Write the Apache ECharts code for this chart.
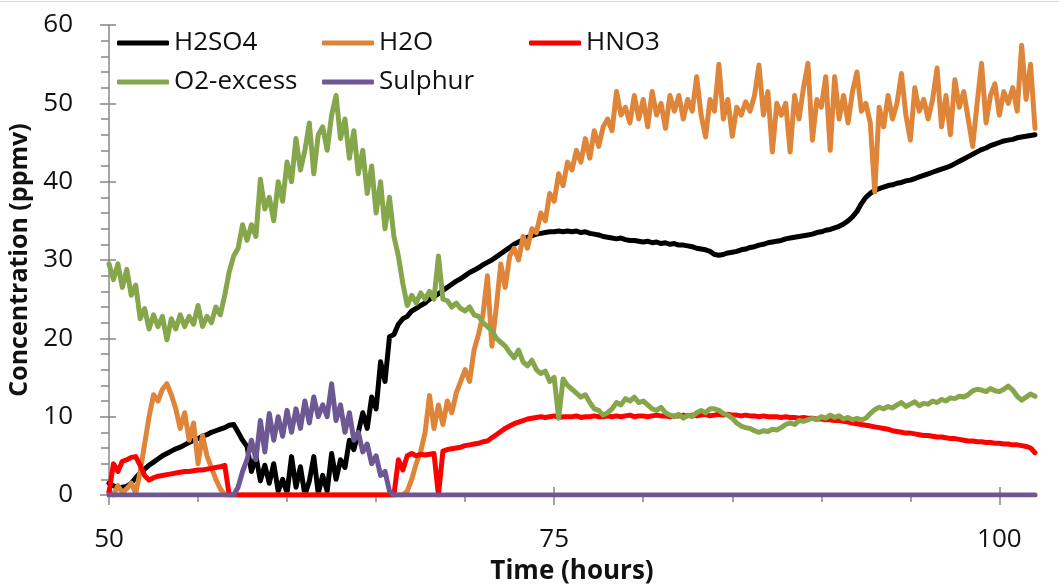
<!DOCTYPE html>
<html>
<head>
<meta charset="utf-8">
<script src="https://cdn.jsdelivr.net/npm/echarts@6/dist/echarts.min.js"></script>
<style>
  html, body { margin: 0; padding: 0; background: #ffffff; }
  #main { width: 1059px; height: 584px; }
</style>
</head>
<body>
<div id="main"></div>
<script>
// readings every 0.25 h starting at 50 h
const timeStart = 50;
const timeStep = 0.25;

const seriesNames = ['H2SO4', 'H2O', 'HNO3', 'O2-excess', 'Sulphur'];
const seriesColors = ['#000000', '#df8539', '#ff0000', '#86a64c', '#6e5894'];

const xTickValues = [50, 75, 100];
const xTickLabels = ['50', '75', '100'];

const h2so4Values = [
  1.5, 1.2, 0.9, 1.0, 1.1, 1.5, 2.2, 2.8,        // 50
  3.3, 3.8, 4.2, 4.6, 5.0, 5.3, 5.6, 5.9,        // 52
  6.1, 6.4, 6.7, 7.0, 7.2, 7.5, 7.7, 8.0,        // 54
  8.2, 8.4, 8.6, 8.9, 9.0, 8.0, 7.0, 6.2,        // 56
  3.0, 5.0, 1.8, 3.8, 1.5, 4.0, 0.5, 2.0,        // 58
  0.3, 4.9, 1.0, 3.6, 0.0, 1.8, 4.9, 0.2,        // 60
  2.5, 0.5, 5.3, 2.0, 4.5, 3.5, 7.0, 5.8,        // 62
  8.0, 10.5, 8.5, 12.5, 11.0, 17.0, 14.5, 20.2,  // 64
  20.5, 21.8, 22.5, 22.8, 23.5, 23.8, 24.2, 24.5, // 66
  25.0, 25.3, 25.7, 26.1, 26.5, 26.9, 27.3, 27.6, // 68
  28.0, 28.4, 28.7, 29.0, 29.4, 29.7, 30.0, 30.4, // 70
  30.8, 31.2, 31.6, 32.0, 32.3, 32.6, 32.9, 33.1, // 72
  33.3, 33.4, 33.5, 33.6, 33.6, 33.7, 33.6, 33.7, // 74
  33.6, 33.7, 33.5, 33.6, 33.4, 33.3, 33.2, 33.0, // 76
  32.9, 32.8, 32.7, 32.8, 32.6, 32.5, 32.5, 32.4, // 78
  32.3, 32.4, 32.2, 32.3, 32.1, 32.2, 32.0, 32.1, // 80
  31.9, 31.9, 31.8, 31.7, 31.5, 31.4, 31.3, 31.1, // 82
  30.7, 30.6, 30.7, 30.9, 31.0, 31.1, 31.3, 31.4, // 84
  31.6, 31.7, 31.9, 32.0, 32.2, 32.3, 32.4, 32.5, // 86
  32.7, 32.8, 32.9, 33.0, 33.1, 33.2, 33.3, 33.5, // 88
  33.6, 33.8, 33.9, 34.1, 34.3, 34.6, 35.0, 35.5, // 90
  36.2, 37.2, 38.0, 38.5, 38.9, 39.1, 39.3, 39.5, // 92
  39.6, 39.8, 39.9, 40.1, 40.2, 40.4, 40.6, 40.8, // 94
  41.0, 41.2, 41.4, 41.6, 41.8, 42.0, 42.3, 42.6, // 96
  42.9, 43.2, 43.5, 43.8, 44.1, 44.3, 44.6, 44.8, // 98
  45.0, 45.2, 45.3, 45.4, 45.6, 45.7, 45.8, 45.9, // 100
  46.0
];

const h2oValues = [
  0.5, 0, 1.2, 0.3, 0.8, 1.5, 0.2, 3.0,          // 50
  6.5, 10.0, 12.8, 12.0, 13.5, 14.2, 12.8, 11.0, // 52
  8.5, 10.5, 7.0, 9.2, 4.0, 7.6, 5.0, 3.5,       // 54
  2.0, 0.8, 0, 0, 0, 0, 0, 0,                    // 56
  0, 0, 0, 0, 0, 0, 0, 0,                        // 58
  0, 0, 0, 0, 0, 0, 0, 0,                        // 60
  0, 0, 0, 0, 0, 0, 0, 0,                        // 62
  0, 0, 0, 0, 0, 0, 0, 0,                        // 64
  0, 0, 0, 0.5, 2.0, 4.0, 5.5, 8.0,              // 66
  12.7, 8.5, 11.5, 9.0, 12.0, 10.5, 13.0, 14.5,  // 68
  16.0, 14.5, 18.5, 20.5, 23.0, 28.0, 19.0, 24.0, // 70
  29.5, 26.5, 30.5, 31.5, 30.0, 33.0, 31.5, 34.0, // 72
  33.5, 36.0, 35.0, 38.5, 37.5, 41.0, 39.5, 42.5, // 74
  41.5, 44.0, 42.5, 45.5, 43.0, 46.5, 44.5, 47.0, // 76
  48.0, 46.5, 51.5, 48.5, 49.5, 47.5, 51.0, 48.0, // 78
  50.5, 47.0, 51.5, 48.5, 50.0, 46.8, 51.0, 49.0, // 80
  51.0, 48.0, 50.5, 49.0, 53.4, 48.5, 45.7, 50.5, // 82
  49.0, 55.0, 48.0, 50.5, 45.8, 49.5, 48.5, 50.2, // 84
  49.0, 51.0, 54.9, 48.5, 51.5, 43.8, 50.0, 48.5, // 86
  50.0, 43.8, 51.0, 48.0, 52.0, 55.1, 45.3, 50.5, // 88
  49.5, 53.4, 44.0, 53.4, 48.0, 51.0, 47.5, 51.5, // 90
  54.0, 49.0, 50.0, 47.5, 38.7, 49.5, 47.0, 51.0, // 92
  48.0, 50.0, 53.8, 48.5, 45.3, 52.0, 49.0, 50.5, // 94
  48.0, 50.5, 54.5, 47.0, 51.0, 46.0, 53.0, 49.5, // 96
  51.5, 48.0, 44.5, 50.0, 55.1, 47.5, 51.0, 52.5, // 98
  48.5, 51.5, 50.0, 52.0, 49.0, 57.4, 50.5, 55.0, // 100
  46.8
];

const hno3Values = [
  0.3, 4.0, 3.0, 4.3, 4.5, 4.8, 4.9, 3.8,        // 50
  2.5, 1.9, 2.2, 2.4, 2.5, 2.6, 2.7, 2.8,        // 52
  2.9, 3.0, 3.0, 3.1, 3.2, 3.2, 3.3, 3.4,        // 54
  3.5, 3.6, 3.8, 0, 0, 0, 0, 0,                  // 56
  0, 0, 0, 0, 0, 0, 0, 0,                        // 58
  0, 0, 0, 0, 0, 0, 0, 0,                        // 60
  0, 0, 0, 0, 0, 0, 0, 0,                        // 62
  0, 0, 0, 0, 0, 0, 0, 0,                        // 64
  0, 4.5, 3.2, 5.0, 5.3, 5.0, 5.2, 5.1,          // 66
  5.2, 5.3, 0, 5.6, 5.8, 5.9, 6.0, 6.1,          // 68
  6.3, 6.4, 6.5, 6.6, 6.8, 6.9, 7.3, 7.7,        // 70
  8.1, 8.5, 8.8, 9.1, 9.3, 9.5, 9.7, 9.8,        // 72
  9.9, 10.0, 9.9, 10.0, 10.1, 9.9, 10.0, 10.0,   // 74
  10.0, 10.1, 9.9, 10.0, 10.0, 10.1, 10.0, 10.0, // 76
  10.1, 10.0, 10.1, 10.0, 10.1, 10.2, 10.0, 10.1, // 78
  10.1, 10.0, 10.1, 10.2, 10.1, 10.1, 10.0, 10.1, // 80
  10.1, 10.2, 10.1, 10.2, 10.1, 10.2, 10.3, 10.1, // 82
  10.2, 10.3, 10.2, 10.3, 10.2, 10.2, 10.1, 10.2, // 84
  10.1, 10.1, 10.0, 10.1, 10.0, 10.0, 10.0, 9.9, // 86
  10.0, 9.9, 9.9, 9.8, 9.9, 9.8, 9.8, 9.7,       // 88
  9.7, 9.6, 9.6, 9.5, 9.5, 9.4, 9.3, 9.2,        // 90
  9.1, 9.0, 8.9, 8.8, 8.7, 8.6, 8.5, 8.4,        // 92
  8.2, 8.1, 8.0, 7.9, 7.9, 7.8, 7.7, 7.6,        // 94
  7.6, 7.5, 7.4, 7.4, 7.3, 7.2, 7.2, 7.1,        // 96
  7.0, 6.9, 6.9, 6.8, 6.8, 6.7, 6.7, 6.6,        // 98
  6.6, 6.5, 6.5, 6.4, 6.4, 6.3, 6.2, 6.0,        // 100
  5.4
];

const o2ExcessValues = [
  29.5, 27.5, 29.5, 26.5, 28.8, 25.5, 26.8, 22.5, // 50
  23.8, 21.2, 23.0, 21.5, 22.8, 19.8, 22.5, 21.2, // 52
  23.0, 21.5, 22.8, 21.8, 24.2, 21.5, 22.8, 22.0, // 54
  24.0, 23.0, 25.5, 28.5, 30.5, 31.5, 34.5, 32.5, // 56
  34.5, 33.0, 40.3, 36.5, 38.0, 35.0, 40.0, 37.5, // 58
  42.5, 40.0, 45.5, 41.5, 44.0, 47.5, 41.0, 46.0, // 60
  47.0, 44.0, 48.5, 51.0, 45.5, 48.0, 43.0, 46.5, // 62
  41.0, 44.0, 38.5, 42.0, 36.0, 40.0, 34.0, 38.0, // 64
  33.0, 30.5, 27.0, 24.2, 25.5, 24.5, 25.8, 25.0, // 66
  26.0, 25.0, 30.5, 25.0, 24.8, 24.0, 24.5, 23.8, // 68
  23.5, 24.0, 23.0, 22.8, 22.0, 21.5, 21.0, 20.0, // 70
  19.5, 19.0, 18.2, 17.5, 18.5, 17.0, 16.5, 17.2, // 72
  16.0, 15.5, 15.8, 14.5, 15.0, 9.8, 14.8, 14.0,  // 74
  13.5, 13.0, 12.5, 12.8, 11.8, 11.0, 10.8, 10.2, // 76
  10.5, 11.0, 11.8, 11.5, 12.3, 12.0, 12.5, 11.8, // 78
  12.0, 11.5, 11.0, 10.8, 11.2, 10.5, 10.2, 10.0, // 80
  10.3, 9.8, 10.2, 10.0, 10.5, 10.8, 10.5, 11.0,  // 82
  11.0, 10.8, 10.4, 10.2, 9.8, 9.2, 8.8, 8.6,     // 84
  8.5, 8.2, 8.0, 8.2, 8.1, 8.4, 8.3, 8.6,         // 86
  9.0, 9.2, 9.0, 9.5, 9.4, 9.6, 9.8, 9.6,         // 88
  10.0, 9.8, 10.2, 9.9, 10.1, 9.7, 9.9, 9.6,      // 90
  9.8, 9.6, 9.8, 10.4, 10.9, 11.2, 11.0, 11.3,    // 92
  11.1, 11.5, 11.8, 11.3, 11.6, 11.9, 11.4, 11.7, // 94
  11.6, 12.0, 11.8, 12.2, 12.0, 12.4, 12.3, 12.6, // 96
  12.5, 12.8, 13.3, 13.5, 13.4, 13.2, 13.6, 13.3, // 98
  13.2, 13.5, 13.9, 13.4, 12.6, 12.1, 12.5, 12.9, // 100
  12.6
];

const sulphurValues = [
  0, 0, 0, 0, 0, 0, 0, 0,                        // 50
  0, 0, 0, 0, 0, 0, 0, 0,                        // 52
  0, 0, 0, 0, 0, 0, 0, 0,                        // 54
  0, 0, 0, 0, 0, 1.0, 3.0, 4.5,                  // 56
  7.0, 4.5, 9.5, 5.5, 10.4, 7.0, 10.0, 7.5,      // 58
  10.8, 8.0, 11.0, 8.5, 12.0, 9.2, 12.5, 10.0,   // 60
  11.5, 10.0, 14.2, 9.5, 11.5, 8.0, 10.5, 7.0,   // 62
  8.0, 5.5, 6.5, 4.0, 5.0, 2.5, 3.0, 0.5,        // 64
  0, 0, 0, 0, 0, 0, 0, 0,                        // 66
  0, 0, 0, 0, 0, 0, 0, 0,                        // 68
  0, 0, 0, 0, 0, 0, 0, 0,                        // 70
  0, 0, 0, 0, 0, 0, 0, 0,                        // 72
  0, 0, 0, 0, 0, 0, 0, 0,                        // 74
  0, 0, 0, 0, 0, 0, 0, 0,                        // 76
  0, 0, 0, 0, 0, 0, 0, 0,                        // 78
  0, 0, 0, 0, 0, 0, 0, 0,                        // 80
  0, 0, 0, 0, 0, 0, 0, 0,                        // 82
  0, 0, 0, 0, 0, 0, 0, 0,                        // 84
  0, 0, 0, 0, 0, 0, 0, 0,                        // 86
  0, 0, 0, 0, 0, 0, 0, 0,                        // 88
  0, 0, 0, 0, 0, 0, 0, 0,                        // 90
  0, 0, 0, 0, 0, 0, 0, 0,                        // 92
  0, 0, 0, 0, 0, 0, 0, 0,                        // 94
  0, 0, 0, 0, 0, 0, 0, 0,                        // 96
  0, 0, 0, 0, 0, 0, 0, 0,                        // 98
  0, 0, 0, 0, 0, 0, 0, 0,                        // 100
  0
];

const allValues = [h2so4Values, h2oValues, hno3Values, o2ExcessValues, sulphurValues];

const toPairs = (values) => values.map((v, i) => [timeStart + i * timeStep, v]);

const font = 'Open Sans';
const axisGray = '#878787';

// legend slots, two rows like the original
const legendSpots = [
  {left: 117, top: 28}, {left: 322, top: 28}, {left: 529, top: 28},
  {left: 117, top: 67}, {left: 322, top: 67}
];

let chart = echarts.init(document.getElementById('main'));

chart.setOption({
  animation: false,
  backgroundColor: '#ffffff',
  grid: {left: 109, right: 24, top: 25, bottom: 89, outerBoundsMode: 'none'},
  legend: seriesNames.map((name, i) => ({
    data: [name],
    left: legendSpots[i].left,
    top: legendSpots[i].top,
    padding: 0,
    icon: 'roundRect',
    itemWidth: 52,
    itemHeight: 5,
    selectedMode: false,
    textStyle: {fontFamily: font, fontSize: 26, color: '#111111', lineHeight: 30}
  })),
  xAxis: [
    {
      type: 'value',
      min: 50,
      max: 102,
      interval: 25,
      name: 'Time (hours)',
      nameLocation: 'middle',
      nameGap: 64,
      nameTextStyle: {fontFamily: font, fontSize: 26, fontWeight: 'bold', color: '#111111'},
      axisLine: {show: true, onZero: false, lineStyle: {color: axisGray, width: 1.5}},
      axisTick: {show: true, length: 10, customValues: xTickValues, lineStyle: {color: axisGray, width: 1.5}},
      minorTick: {show: true, splitNumber: 5, length: 7, lineStyle: {color: axisGray, width: 1.5}},
      axisLabel: {
        customValues: xTickValues,
        formatter: (v) => xTickLabels[xTickValues.indexOf(v)],
        fontFamily: font, fontSize: 26, color: '#111111', margin: 32
      },
      splitLine: {show: false}
    },
    {
      // inner half of the major ticks
      type: 'value',
      min: 50,
      max: 102,
      interval: 25,
      position: 'bottom',
      axisLine: {show: false},
      axisTick: {show: true, inside: true, length: 8, customValues: xTickValues, lineStyle: {color: axisGray, width: 1.5}},
      axisLabel: {show: false},
      splitLine: {show: false}
    }
  ],
  yAxis: [
    {
      type: 'value',
      min: 0,
      max: 60,
      interval: 10,
      name: 'Concentration (ppmv)',
      nameLocation: 'middle',
      nameGap: 63,
      nameTextStyle: {fontFamily: font, fontSize: 25, fontWeight: 'bold', color: '#111111'},
      axisLine: {show: true, lineStyle: {color: axisGray, width: 1.5}},
      axisTick: {show: true, length: 9, lineStyle: {color: axisGray, width: 1.5}},
      minorTick: {show: true, splitNumber: 5, length: 8, lineStyle: {color: axisGray, width: 1.5}},
      axisLabel: {fontFamily: font, fontSize: 26, color: '#111111', margin: 36},
      splitLine: {show: false}
    },
    {
      type: 'value',
      min: 0,
      max: 60,
      interval: 10,
      position: 'left',
      axisLine: {show: false},
      axisTick: {show: true, inside: true, length: 7, lineStyle: {color: axisGray, width: 1.5}},
      axisLabel: {show: false},
      splitLine: {show: false}
    }
  ],
  graphic: [
    {type: 'line', shape: {x1: 0, y1: 1.5, x2: 1059, y2: 1.5}, style: {stroke: '#d9d9d9', lineWidth: 1}}
  ],
  series: seriesNames.map((name, i) => ({
    name: name,
    type: 'line',
    data: toPairs(allValues[i]),
    showSymbol: false,
    symbol: 'none',
    color: seriesColors[i],
    lineStyle: {width: 5, color: seriesColors[i], join: 'round', cap: 'round'}
  }))
});
</script>
</body>
</html>
